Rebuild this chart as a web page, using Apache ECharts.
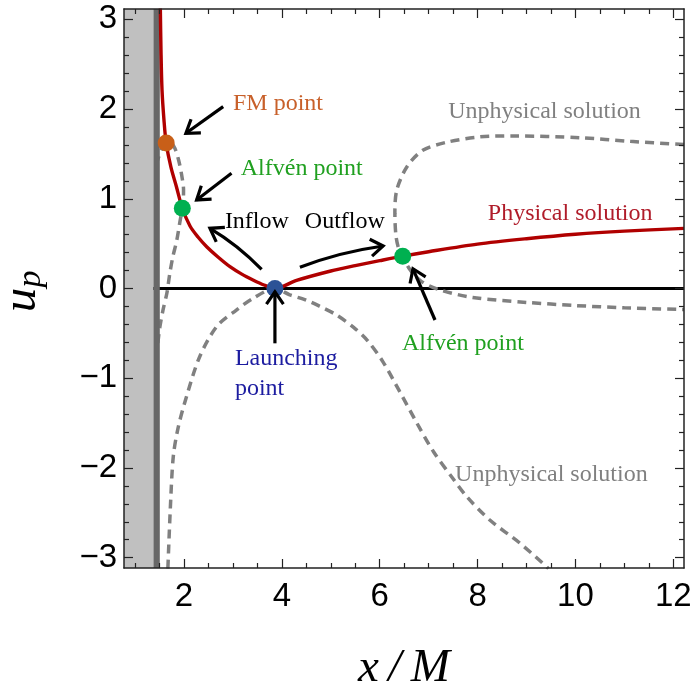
<!DOCTYPE html>
<html><head><meta charset="utf-8">
<script src="https://cdn.jsdelivr.net/npm/echarts@6/dist/echarts.min.js"></script>
<style>html,body{margin:0;padding:0;background:#fff}#c{width:698px;height:692px}</style>
</head><body><div id="c"></div>
<script>
// ---- axis ranges & ticks ----
const X_MIN = 0.773, X_MAX = 12.22, Y_MIN = -3.115, Y_MAX = 3.115;
const xMajorTicks = [2, 4, 6, 8, 10, 12];
const xMinorTicks = [1, 1.5, 2.5, 3, 3.5, 4.5, 5, 5.5, 6.5, 7, 7.5, 8.5, 9, 9.5, 10.5, 11, 11.5];
const yMajorTicks = [-3, -2, -1, 0, 1, 2, 3];
const yMinorTicks = [-2.8, -2.6, -2.4, -2.2, -1.8, -1.6, -1.4, -1.2, -0.8, -0.6, -0.4, -0.2,
                     0.2, 0.4, 0.6, 0.8, 1.2, 1.4, 1.6, 1.8, 2.2, 2.4, 2.6, 2.8];

// ---- physical solution (red) ----
const physX = [1.516, 1.529, 1.550, 1.590, 1.635, 1.731, 1.846, 1.965, 2.122, 2.285, 2.463, 2.694, 2.939, 3.18, 3.409, 3.634, 3.858,
               4.30, 5.00, 5.50, 6.00, 6.47, 7.00, 8.00, 9.00, 10.0, 11.0, 12.22];
const physY = [3.12, 2.659, 2.213, 1.878, 1.622, 1.355, 1.132, 0.894, 0.697, 0.574, 0.466, 0.351, 0.243, 0.16, 0.095, 0.039, 0.0,
               0.09, 0.195, 0.255, 0.31, 0.36, 0.41, 0.495, 0.555, 0.605, 0.64, 0.67];

// ---- unphysical solutions (grey dashed) ----
const innerX = [1.43, 1.465, 1.55, 1.635, 1.72, 1.81, 1.89, 1.95, 1.99, 1.985, 1.965, 1.915, 1.853, 1.77, 1.71, 1.65, 1.57, 1.506, 1.465, 1.43];
const innerY = [1.38, 1.44, 1.56, 1.622, 1.625, 1.565, 1.43, 1.27, 1.10, 0.98, 0.894, 0.74, 0.54, 0.35, 0.17, -0.05, -0.24, -0.43, -0.61, -0.8];

const arcX = [1.67, 1.72, 1.78, 1.88, 2.05, 2.32, 2.665, 3.07, 3.41, 3.858, 4.16, 4.50, 4.78, 5.10, 5.46, 5.75, 6.07, 6.41, 6.76, 7.10, 7.50, 7.78, 8.25, 8.87, 9.45];
const arcY = [-3.12, -2.45, -1.875, -1.55, -1.206, -0.76, -0.426, -0.24, -0.11, 0.0, -0.07, -0.13, -0.2, -0.29, -0.43, -0.58, -0.82, -1.15, -1.5, -1.82, -2.12, -2.32, -2.58, -2.84, -3.12];

const loopX = [12.22, 11.12, 10.1, 8.72, 8.05, 7.37, 6.88, 6.56, 6.35, 6.31, 6.33, 6.38, 6.47, 6.62, 6.85, 7.2, 7.9, 9.0, 10.0, 11.0, 12.22];
const loopY = [1.605, 1.64, 1.68, 1.70, 1.69, 1.63, 1.54, 1.36, 1.10, 0.84, 0.6, 0.46, 0.36, 0.21, 0.08, -0.01, -0.1, -0.155, -0.19, -0.215, -0.235];

// ---- critical points ----
const critNames = ['FM point', 'Alfvén point', 'Launching point', 'Alfvén point'];
const critX = [1.635, 1.965, 3.858, 6.47];
const critY = [1.622, 0.894, 0.0, 0.36];
const critColors = ['#c85f18', '#00b050', '#2c5296', '#00b050'];

// ---- horizon band ----
const bandFrom = [X_MIN, 1.375];
const bandTo = [1.375, 1.505];
const bandColors = ['#c0c0c0', '#686868'];

// ---- annotations (data coordinates) ----
const labels = [
  {text: 'FM point', at: [3.0, 2.06], color: '#c8602a'},
  {text: 'Alfvén point', at: [3.16, 1.33], color: '#20a020'},
  {text: 'Inflow', at: [2.835, 0.74], color: '#000'},
  {text: 'Outflow', at: [4.47, 0.74], color: '#000'},
  {text: 'Physical solution', at: [8.21, 0.83], color: '#b01c2a'},
  {text: 'Unphysical solution', at: [7.40, 1.97], color: '#808080'},
  {text: 'Alfvén point', at: [6.455, -0.62], color: '#20a020'},
  {text: 'Launching', at: [3.04, -0.785], color: '#1c1ca0'},
  {text: 'point', at: [3.04, -1.12], color: '#1c1ca0'},
  {text: 'Unphysical solution', at: [7.54, -2.07], color: '#808080'}
];
const arrows = [
  {from: [2.80, 2.027], to: [2.038, 1.73]},
  {from: [2.97, 1.284], to: [2.257, 0.987]},
  {from: [3.586, 0.214], to: [2.529, 0.671], via: [3.075, 0.466]},
  {from: [4.369, 0.236], to: [6.07, 0.474], via: [5.19, 0.38]},
  {from: [3.858, -0.611], to: [3.858, -0.036]},
  {from: [7.13, -0.351], to: [6.68, 0.22]}
];

const zip = (xs, ys) => xs.map((x, i) => [x, ys[i]]);
const minus = v => String(v).replace('-', '\u2212');
const axisCol = '#222';

function xAx(pos, ticks, len, labels, line) {
  return {
    type: 'value', min: X_MIN, max: X_MAX, position: pos, z: 10,
    axisLine: {show: line, onZero: false, lineStyle: {color: axisCol, width: 1.5}},
    axisTick: {show: true, inside: true, length: len, customValues: ticks, lineStyle: {color: axisCol, width: 1.2}},
    axisLabel: labels ? {show: true, customValues: ticks, margin: 12, fontSize: 33, fontFamily: 'Liberation Sans', color: '#000', formatter: minus} : {show: false},
    splitLine: {show: false}
  };
}
function yAx(pos, ticks, len, labels, line) {
  return {
    type: 'value', min: Y_MIN, max: Y_MAX, position: pos, z: 10,
    axisLine: {show: line, onZero: false, lineStyle: {color: axisCol, width: 1.5}},
    axisTick: {show: true, inside: true, length: len, customValues: ticks, lineStyle: {color: axisCol, width: 1.2}},
    axisLabel: labels ? {show: true, customValues: ticks, margin: 7, fontSize: 33, fontFamily: 'Liberation Sans', color: '#000', formatter: minus} : {show: false},
    splitLine: {show: false}
  };
}

const dashed = {color: '#808080', width: 3.5, type: [9, 6]};

const chart = echarts.init(document.getElementById('c'), null, {renderer: 'canvas'});
chart.setOption({
  animation: false,
  backgroundColor: '#fff',
  grid: {left: 124, right: 14, top: 9, bottom: 124, containLabel: false},
  xAxis: [
    xAx('bottom', xMajorTicks, 9, true, true),
    xAx('bottom', xMinorTicks, 5, false, false),
    xAx('top', xMajorTicks, 9, false, true),
    xAx('top', xMinorTicks, 5, false, false)
  ],
  yAxis: [
    yAx('left', yMajorTicks, 9, true, true),
    yAx('left', yMinorTicks, 5, false, false),
    yAx('right', yMajorTicks, 9, false, true),
    yAx('right', yMinorTicks, 5, false, false)
  ],
  series: [
    {type: 'line', data: [[1.3, 0], [X_MAX, 0]], symbol: 'none', lineStyle: {color: '#000', width: 3}, z: 2, silent: true},
    {type: 'line', data: zip(innerX, innerY), symbol: 'none', smooth: 0.3, lineStyle: dashed, z: 2, silent: true},
    {type: 'line', data: zip(arcX, arcY), symbol: 'none', smooth: 0.3, lineStyle: dashed, z: 2, silent: true},
    {type: 'line', data: zip(loopX, loopY), symbol: 'none', smooth: 0.3, lineStyle: dashed, z: 2, silent: true},
    {
      type: 'custom', z: 3, silent: true, clip: true,
      data: zip(bandFrom, bandTo),
      encode: {x: [0, 1]},
      renderItem: (params, api) => {
        const p0 = api.coord([api.value(0), Y_MAX]);
        const p1 = api.coord([api.value(1), Y_MIN]);
        return {type: 'rect', shape: {x: p0[0], y: p0[1], width: p1[0] - p0[0], height: p1[1] - p0[1]},
                style: {fill: bandColors[params.dataIndex]}};
      }
    },
    {type: 'line', data: zip(physX, physY), symbol: 'none', smooth: 0.3, lineStyle: {color: '#b00000', width: 3.4}, z: 4, silent: true},
    {
      type: 'scatter', z: 5, symbolSize: 17, silent: true,
      data: critX.map((x, i) => ({name: critNames[i], value: [x, critY[i]], itemStyle: {color: critColors[i], opacity: 1}}))
    }
  ]
});

const conv = p => chart.convertToPixel({xAxisIndex: 0, yAxisIndex: 0}, p);
const g = [];
arrows.forEach(a => {
  const p0 = conv(a.from), p1 = conv(a.to);
  let cp = null;
  if (a.via) {
    const v = conv(a.via);
    cp = [2 * v[0] - (p0[0] + p1[0]) / 2, 2 * v[1] - (p0[1] + p1[1]) / 2];
    g.push({type: 'bezierCurve', z: 20, silent: true,
      shape: {x1: p0[0], y1: p0[1], x2: p1[0], y2: p1[1], cpx1: cp[0], cpy1: cp[1]},
      style: {stroke: '#000', lineWidth: 3.2, fill: 'none'}});
  } else {
    g.push({type: 'line', z: 20, silent: true,
      shape: {x1: p0[0], y1: p0[1], x2: p1[0], y2: p1[1]},
      style: {stroke: '#000', lineWidth: 3.2}});
  }
  const from = cp || p0;
  const dx = p1[0] - from[0], dy = p1[1] - from[1];
  const L = Math.hypot(dx, dy);
  const bx = -dx / L, by = -dy / L;
  const len = 15, ang = 0.6;
  const rot = t => [p1[0] + len * (bx * Math.cos(t) - by * Math.sin(t)), p1[1] + len * (bx * Math.sin(t) + by * Math.cos(t))];
  g.push({type: 'polyline', z: 20, silent: true,
    shape: {points: [rot(ang), p1, rot(-ang)]},
    style: {stroke: '#000', lineWidth: 3.2, fill: 'none', lineJoin: 'miter'}});
});
labels.forEach(l => {
  const p = conv(l.at);
  g.push({type: 'text', x: p[0], y: p[1], z: 21, silent: true,
    style: {text: l.text, fill: l.color, font: '24px "Liberation Serif"', textAlign: 'left', textVerticalAlign: 'middle'}});
});
// axis titles
g.push({type: 'text', x: 404, y: 669, z: 21, silent: true,
  style: {text: 'x\u2009/\u2009M', fill: '#000', font: 'italic 47px "Liberation Serif"', textAlign: 'center', textVerticalAlign: 'middle'}});
g.push({type: 'text', x: 22, y: 300, rotation: Math.PI / 2, z: 21, silent: true,
  style: {text: 'u', fill: '#000', font: 'italic 49px "Liberation Serif"', textAlign: 'center', textVerticalAlign: 'middle'}});
g.push({type: 'text', x: 31, y: 279, rotation: Math.PI / 2, z: 21, silent: true,
  style: {text: 'p', fill: '#000', font: 'italic 34px "Liberation Serif"', textAlign: 'center', textVerticalAlign: 'middle'}});
chart.setOption({graphic: g});
</script>
</body></html>
